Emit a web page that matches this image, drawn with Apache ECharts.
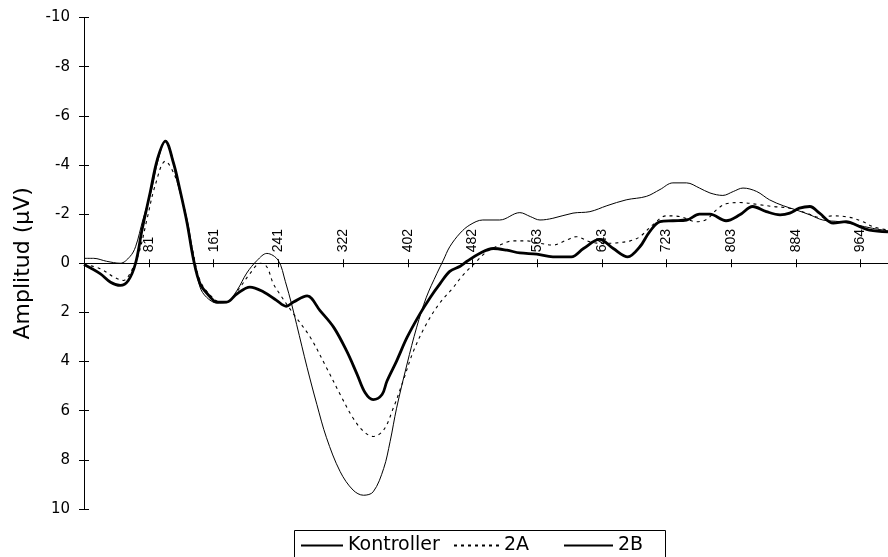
<!DOCTYPE html>
<html>
<head>
<meta charset="utf-8">
<script src="https://cdn.jsdelivr.net/npm/echarts@6/dist/echarts.min.js"></script>
<style>
html,body{margin:0;padding:0;background:#fff;}
#chart{width:888px;height:557px;}
</style>
</head>
<body>
<div id="chart"></div>
<script>
// ---- data (time in ms, amplitude in µV) ----
const seriesNames = ['Kontroller', '2A', '2B'];
const tickLabels = ['81', '161', '241', '322', '402', '482', '563', '643', '723', '803', '884', '964'];
const yTickMin = -10, yTickMax = 10, yTickStep = 2;

const kontrollerT = [0, 12, 28, 45, 57, 64, 73, 84, 92, 101, 109, 115, 128, 136, 144, 152, 165, 177, 190, 202, 215, 227, 241, 250, 258, 264, 277, 289, 301, 318, 334, 347, 359, 372, 380, 388, 401, 413, 425, 438, 446, 454, 467, 479, 495, 516, 541, 554, 566, 582, 607, 628, 649, 673, 698, 715, 731, 748, 764, 777, 793, 806, 818, 835, 851, 868, 884, 901, 917, 938, 959, 979, 998];
const kontrollerV = [-0.2, -0.2, -0.08, 0, -0.27, -0.67, -1.76, -3.0, -4.2, -4.97, -4.4, -3.4, -1.77, -0.26, 0.97, 1.38, 1.62, 1.6, 1.1, 0.4, -0.12, -0.4, -0.12, 0.75, 1.7, 2.5, 4.25, 5.74, 7.1, 8.48, 9.23, 9.44, 9.3, 8.35, 7.25, 5.9, 4.1, 2.6, 1.38, 0.42, -0.12, -0.67, -1.23, -1.56, -1.76, -1.76, -2.06, -1.9, -1.76, -1.83, -2.04, -2.1, -2.34, -2.58, -2.72, -3.0, -3.27, -3.27, -3.06, -2.86, -2.76, -2.92, -3.06, -2.92, -2.58, -2.34, -2.17, -1.97, -1.76, -1.69, -1.56, -1.42, -1.32];

const g2AT = [0, 20, 37, 49, 57, 68, 78, 88, 101, 113, 124, 134, 144, 157, 169, 181, 194, 206, 219, 227, 235, 244, 260, 281, 301, 318, 334, 347, 359, 372, 384, 396, 409, 425, 442, 458, 470, 485, 500, 516, 533, 549, 566, 582, 599, 611, 628, 644, 661, 678, 690, 706, 723, 740, 760, 773, 785, 797, 814, 839, 855, 876, 897, 913, 930, 950, 967, 979, 998];
const g2AV = [0.05, 0.22, 0.56, 0.7, 0.42, -0.4, -1.76, -3.13, -4.15, -3.54, -2.31, -0.67, 0.7, 1.31, 1.58, 1.51, 0.97, 0.42, 0, 0.15, 0.83, 1.3, 2.06, 3.02, 4.25, 5.34, 6.3, 6.84, 7.05, 6.78, 5.89, 4.8, 3.57, 2.47, 1.6, 1.0, 0.5, 0, -0.47, -0.74, -0.91, -0.91, -0.81, -0.74, -0.94, -1.08, -0.87, -0.81, -0.83, -0.91, -1.08, -1.56, -1.93, -1.9, -1.69, -1.79, -2.17, -2.42, -2.47, -2.38, -2.31, -2.24, -2.04, -1.87, -1.93, -1.87, -1.69, -1.49, -1.35];

const g2BT = [0, 20, 33, 45, 55, 64, 72, 82, 91, 101, 111, 119, 128, 136, 144, 155, 165, 177, 190, 206, 223, 239, 251, 260, 277, 293, 310, 326, 339, 349, 359, 370, 376, 388, 401, 417, 430, 442, 454, 467, 475, 491, 508, 525, 541, 562, 582, 605, 620, 640, 657, 675, 690, 702, 715, 731, 748, 764, 777, 797, 814, 830, 847, 864, 876, 888, 901, 913, 930, 946, 963, 975, 998];
const g2BV = [0.05, 0.42, 0.77, 0.9, 0.7, 0, -1.35, -2.86, -4.22, -4.97, -4.09, -3.0, -1.63, -0.14, 0.83, 1.31, 1.58, 1.58, 1.24, 0.97, 1.17, 1.51, 1.75, 1.58, 1.33, 1.93, 2.61, 3.57, 4.52, 5.27, 5.55, 5.34, 4.8, 3.98, 3.02, 2.06, 1.38, 0.83, 0.33, 0.12, -0.07, -0.4, -0.6, -0.53, -0.42, -0.37, -0.26, -0.26, -0.6, -0.97, -0.6, -0.26, -0.67, -1.28, -1.69, -1.73, -1.76, -2.0, -2.0, -1.73, -1.97, -2.31, -2.1, -1.97, -2.04, -2.24, -2.31, -2.04, -1.63, -1.69, -1.49, -1.35, -1.28];

const xMin = 0, xMax = 998;

// ---- build ----
function pairs(ts, vs) { return ts.map((t, i) => [t, vs[i]]); }
const tickValues = tickLabels.map(Number);

const chart = echarts.init(document.getElementById('chart'), null, { renderer: 'canvas' });

const plotTop = 17.5, plotBottomGap = 48, plotLeft = 84;
const plotH = 557 - plotTop - plotBottomGap;
const zeroFromTop = plotTop + plotH * (0 - yTickMin) / (yTickMax - yTickMin);

const xCommon = {
  type: 'value', min: xMin, max: xMax, position: 'bottom',
  axisLine: { show: true, onZero: true, onZeroAxisIndex: 0, lineStyle: { color: '#000', width: 1 } },
  splitLine: { show: false }
};
const yCommon = {
  type: 'value', inverse: true, min: yTickMin, max: yTickMax, interval: yTickStep, position: 'left',
  axisLine: { show: true, onZero: false, lineStyle: { color: '#000', width: 1 } },
  splitLine: { show: false }
};

const legendFont = { fontFamily: 'DejaVu Sans', fontSize: 19, color: '#000' };
const legendCommon = { top: 536, padding: 0, itemHeight: 14, textStyle: legendFont, selectedMode: false, itemStyle: { opacity: 0 } };
const lineStyles = [
  { color: '#000', width: 1, type: 'solid' },
  { color: '#000', width: 1.1, type: [3, 4] },
  { color: '#000', width: 2.8, type: 'solid' }
];
const dataSets = [pairs(kontrollerT, kontrollerV), pairs(g2AT, g2AV), pairs(g2BT, g2BV)];

chart.setOption({
  animation: false,
  backgroundColor: '#fff',
  grid: [
    { left: plotLeft, right: 0, top: plotTop, bottom: plotBottomGap, containLabel: false },
    { left: plotLeft, right: 0, top: plotTop, bottom: 557 - zeroFromTop, containLabel: false }
  ],
  xAxis: [
    Object.assign({}, xCommon, {
      gridIndex: 0,
      axisTick: { show: true, inside: false, length: 4, customValues: tickValues, lineStyle: { color: '#000' } },
      axisLabel: { show: false }
    }),
    Object.assign({}, xCommon, {
      gridIndex: 0,
      axisTick: { show: true, inside: true, length: 4, customValues: tickValues, lineStyle: { color: '#000' } },
      axisLabel: { show: false }
    }),
    {
      type: 'value', min: xMin, max: xMax, position: 'bottom', gridIndex: 1,
      axisLine: { show: false, onZero: false }, axisTick: { show: false }, splitLine: { show: false },
      axisLabel: {
        show: true, inside: true, rotate: 90, margin: 11, customValues: tickValues,
        fontFamily: 'Liberation Sans', fontSize: 14, color: '#000'
      }
    }
  ],
  yAxis: [
    Object.assign({}, yCommon, {
      gridIndex: 0,
      name: 'Amplitud (µV)', nameLocation: 'middle', nameRotate: 90, nameGap: 50,
      nameTextStyle: { fontFamily: 'DejaVu Sans', fontSize: 22, color: '#000' },
      axisTick: { show: true, inside: false, length: 5, lineStyle: { color: '#000' } },
      axisLabel: { show: true, margin: 14, fontFamily: 'DejaVu Sans', fontSize: 15, color: '#000' }
    }),
    Object.assign({}, yCommon, {
      gridIndex: 0,
      axisTick: { show: true, inside: true, length: 5, lineStyle: { color: '#000' } },
      axisLabel: { show: false }
    }),
    { type: 'value', gridIndex: 1, min: yTickMin, max: 0, inverse: true, show: false }
  ],
  legend: [
    Object.assign({ data: [seriesNames[0]], left: 300, itemWidth: 42 }, legendCommon),
    Object.assign({ data: [seriesNames[1]], left: 453, itemWidth: 45 }, legendCommon),
    Object.assign({ data: [seriesNames[2]], left: 563, itemWidth: 49 }, legendCommon)
  ],
  graphic: [
    { type: 'rect', silent: true, shape: { x: 294.5, y: 530.5, width: 371, height: 40 }, style: { fill: 'transparent', stroke: '#000', lineWidth: 1 } }
  ],
  series: seriesNames.map((name, i) => ({
    name: name, type: 'line', xAxisIndex: 0, yAxisIndex: 0,
    data: dataSets[i], symbol: 'none', smooth: 0.35,
    lineStyle: lineStyles[i], itemStyle: { color: '#000' },
    emphasis: { disabled: true }, z: 3 + (i === 2 ? 1 : 0)
  }))
});
</script>
</body>
</html>
